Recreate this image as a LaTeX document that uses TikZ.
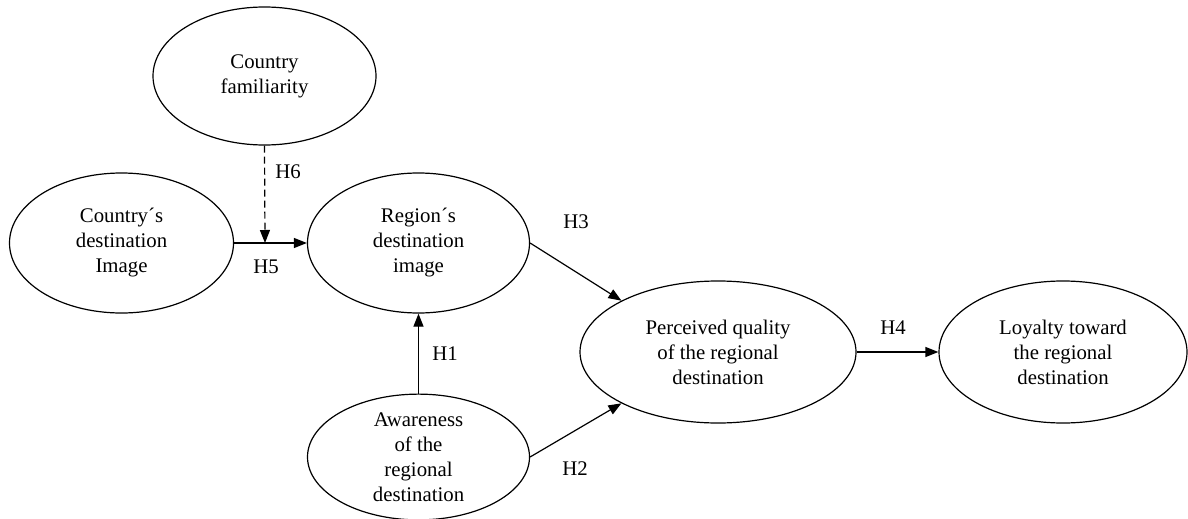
\documentclass[tikz,border=0pt]{standalone}
\usepackage{fontspec}
\setmainfont{Liberation Serif}
\usetikzlibrary{shapes.geometric,arrows.meta}
\begin{document}
\begin{tikzpicture}[x=1pt,y=-1pt,
  construct/.style={draw,ellipse,line width=1.2pt,inner sep=0pt,align=center,
    font=\fontsize{20.8}{25}\selectfont},
  hlabel/.style={font=\fontsize{20.8}{25}\selectfont,inner sep=0pt},
  link/.style={line width=1.2pt,-{Triangle[length=13pt,width=10pt]}}]
\useasboundingbox (0,0) rectangle (1188,519);
\node[construct,minimum width=223pt,minimum height=138pt] (cf) at (264.5,76) {Country\\familiarity};
\node[construct,minimum width=224pt,minimum height=140pt] (cdi) at (121.5,243) {Country´s\\destination\\Image};
\node[construct,minimum width=222pt,minimum height=140pt] (reg) at (418.5,243) {Region´s\\destination\\image};
\node[construct,minimum width=222pt,minimum height=123pt] (aw) at (418.5,457) {Awareness\\of the\\regional\\destination};
\node[construct,minimum width=276pt,minimum height=142pt] (pq) at (718,352) {Perceived quality\\of the regional\\destination};
\node[construct,minimum width=248pt,minimum height=142pt] (loy) at (1063,352) {Loyalty toward\\the regional\\destination};
\coordinate (j) at (265,243);
\draw[link] (cdi.east) -- (reg.west);
\draw[link,dash pattern=on 7pt off 4pt] (cf.south) -- (j);
\draw[link] (aw.north) -- (reg.south);
\draw[link] (reg.east) -- (pq.152);
\draw[link] (aw.east) -- (pq.208);
\draw[link] (pq.east) -- (loy.west);
\node[hlabel] (h6) at (288,172) {H6};
\node[hlabel] (h5) at (266,267) {H5};
\node[hlabel] (h3) at (576,222) {H3};
\node[hlabel] (h1) at (445,354) {H1};
\node[hlabel] (h2) at (575,469) {H2};
\node[hlabel] (h4) at (893,328) {H4};
\end{tikzpicture}
\end{document}
